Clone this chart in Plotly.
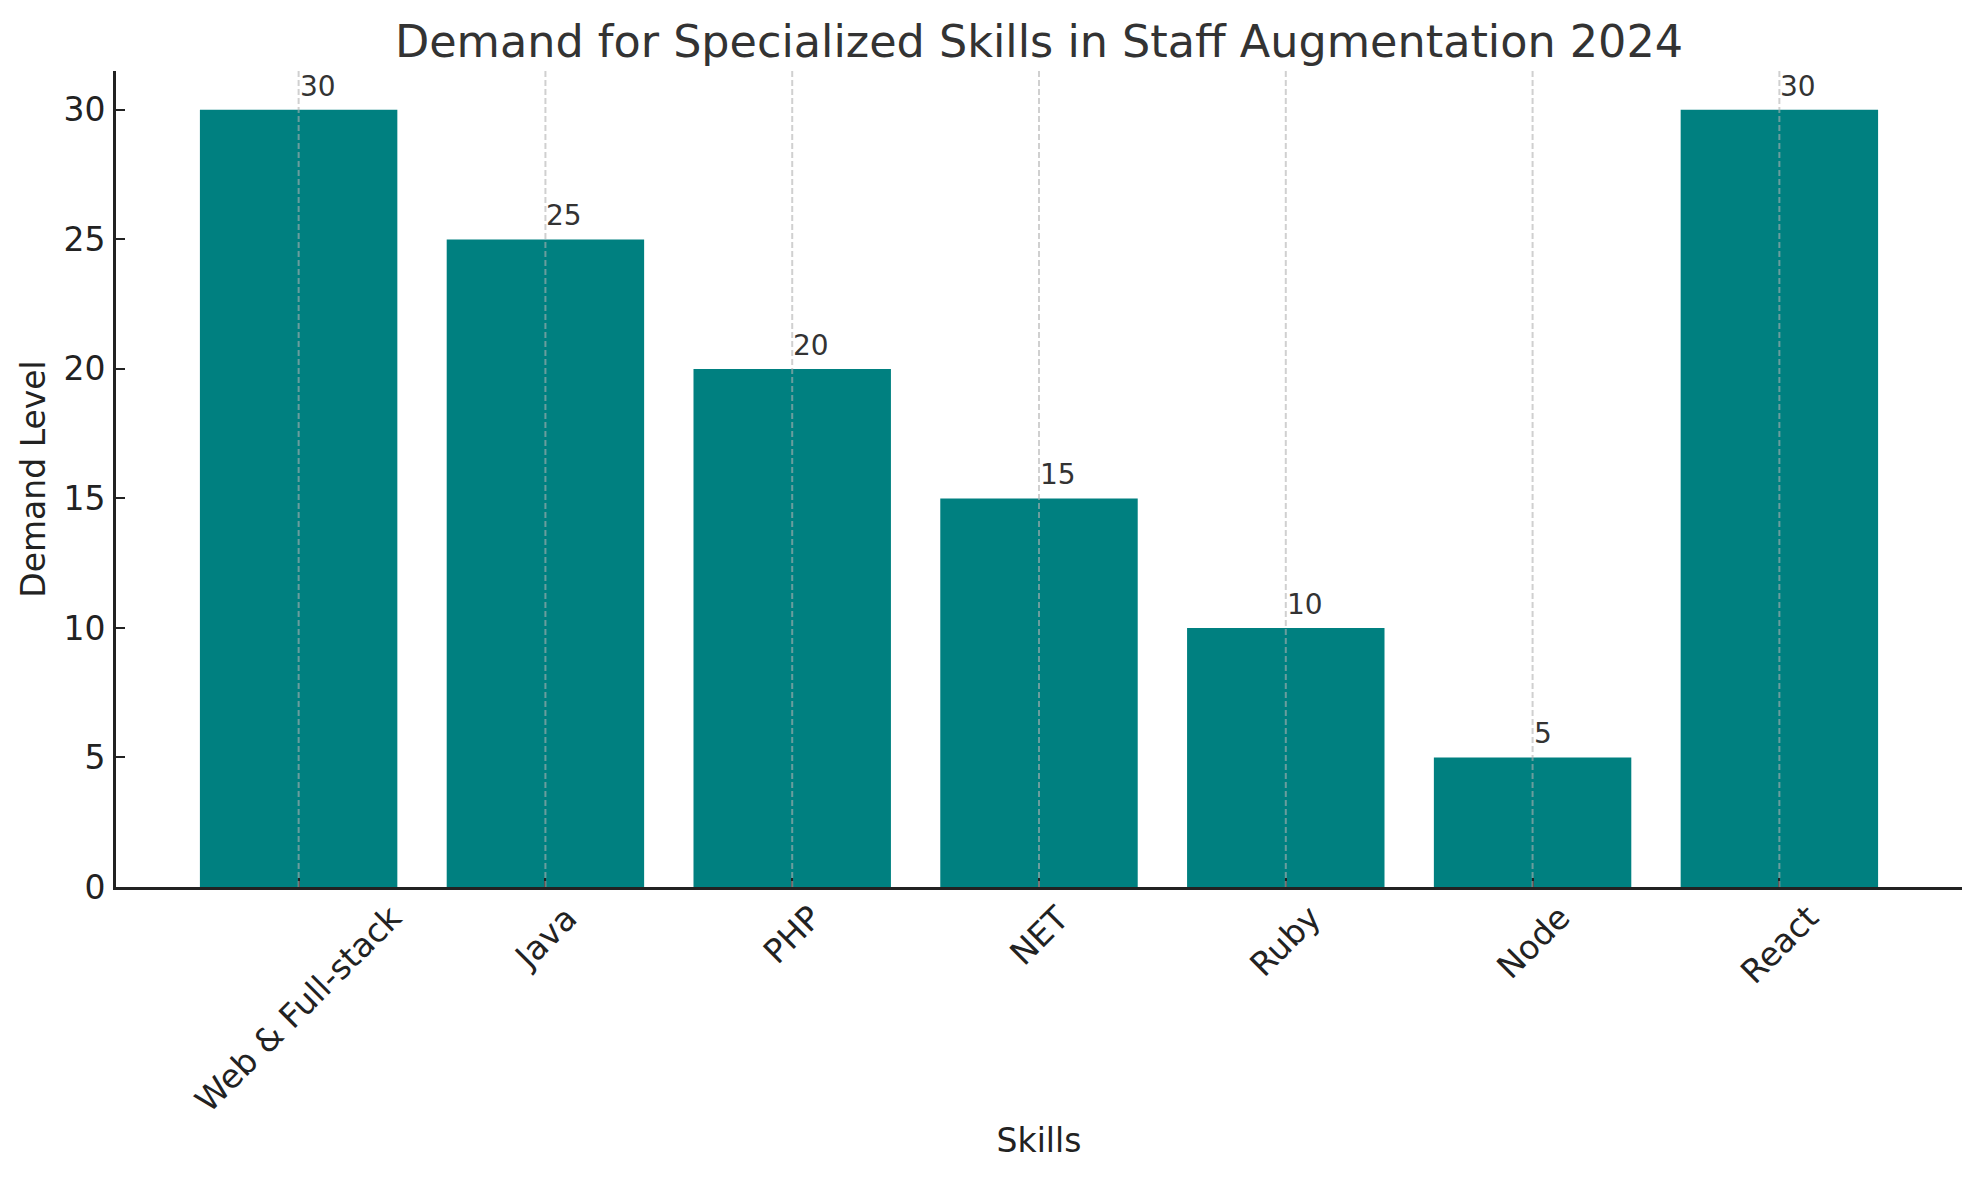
import plotly.graph_objects as go

# data
skills = ["Web & Full-stack", "Java", "PHP", "NET", "Ruby", "Node", "React"]
demand = [30, 25, 20, 15, 10, 5, 30]

FONT = "DejaVu Sans"
TEAL = "#008080"

fig = go.Figure(go.Bar(x=skills, y=demand, marker_color=TEAL, width=0.8,
                       marker_line_width=0))

# value labels, left edge at the bar centre (like matplotlib ha='left')
for s, v in zip(skills, demand):
    fig.add_annotation(x=s, y=v, text=str(v), showarrow=False,
                       xanchor="left", yanchor="bottom", xshift=-1, yshift=5,
                       font=dict(family=FONT, size=28, color="#333333"))

# rotated category labels centred under the ticks
for s in skills:
    fig.add_annotation(x=s, y=0, yref="paper", text=s, showarrow=False,
                       textangle=-45, xanchor="center", yanchor="top",
                       yshift=-8,
                       font=dict(family=FONT, size=33, color="#222222"))

# dashed vertical grid drawn over the bars
for s in skills:
    fig.add_shape(type="line", xref="x", yref="paper", x0=s, x1=s, y0=0, y1=1,
                  layer="above",
                  line=dict(color="rgba(176,176,176,0.6)", width=2, dash="6px,3px"))

# the html page adds an 8px body margin, so the figure is a bit smaller
fig.update_layout(
    width=1972, height=1172,
    margin=dict(l=108, r=18, t=63, b=293),
    paper_bgcolor="white", plot_bgcolor="white",
    showlegend=False,
    title=dict(text="Demand for Specialized Skills in Staff Augmentation 2024",
               x=0.5, xref="paper", y=1 - 33 / 1172, yanchor="middle",
               font=dict(family=FONT, size=44.5, color="#333333")),
    font=dict(family=FONT, color="#222222"),
)

fig.update_xaxes(
    range=[-0.74, len(skills) - 1 + 0.74],
    showticklabels=False, showgrid=False, zeroline=False,
    showline=True, linewidth=3, linecolor="#222222",
    ticks="inside", ticklen=9, tickwidth=2, tickcolor="#222222",
    title=dict(text="Skills", standoff=240, font=dict(family=FONT, size=33, color="#222222")),
)
fig.update_yaxes(
    range=[0, 31.5], dtick=5, tick0=0,
    showgrid=False, zeroline=False,
    showline=True, linewidth=3, linecolor="#222222",
    ticks="inside", ticklen=9, tickwidth=2, tickcolor="#222222",
    ticklabelstandoff=1,
    tickfont=dict(family=FONT, size=33, color="#222222"),
    title=dict(text="Demand Level", standoff=8, font=dict(family=FONT, size=33, color="#222222")),
)

fig.write_html("out.html")
